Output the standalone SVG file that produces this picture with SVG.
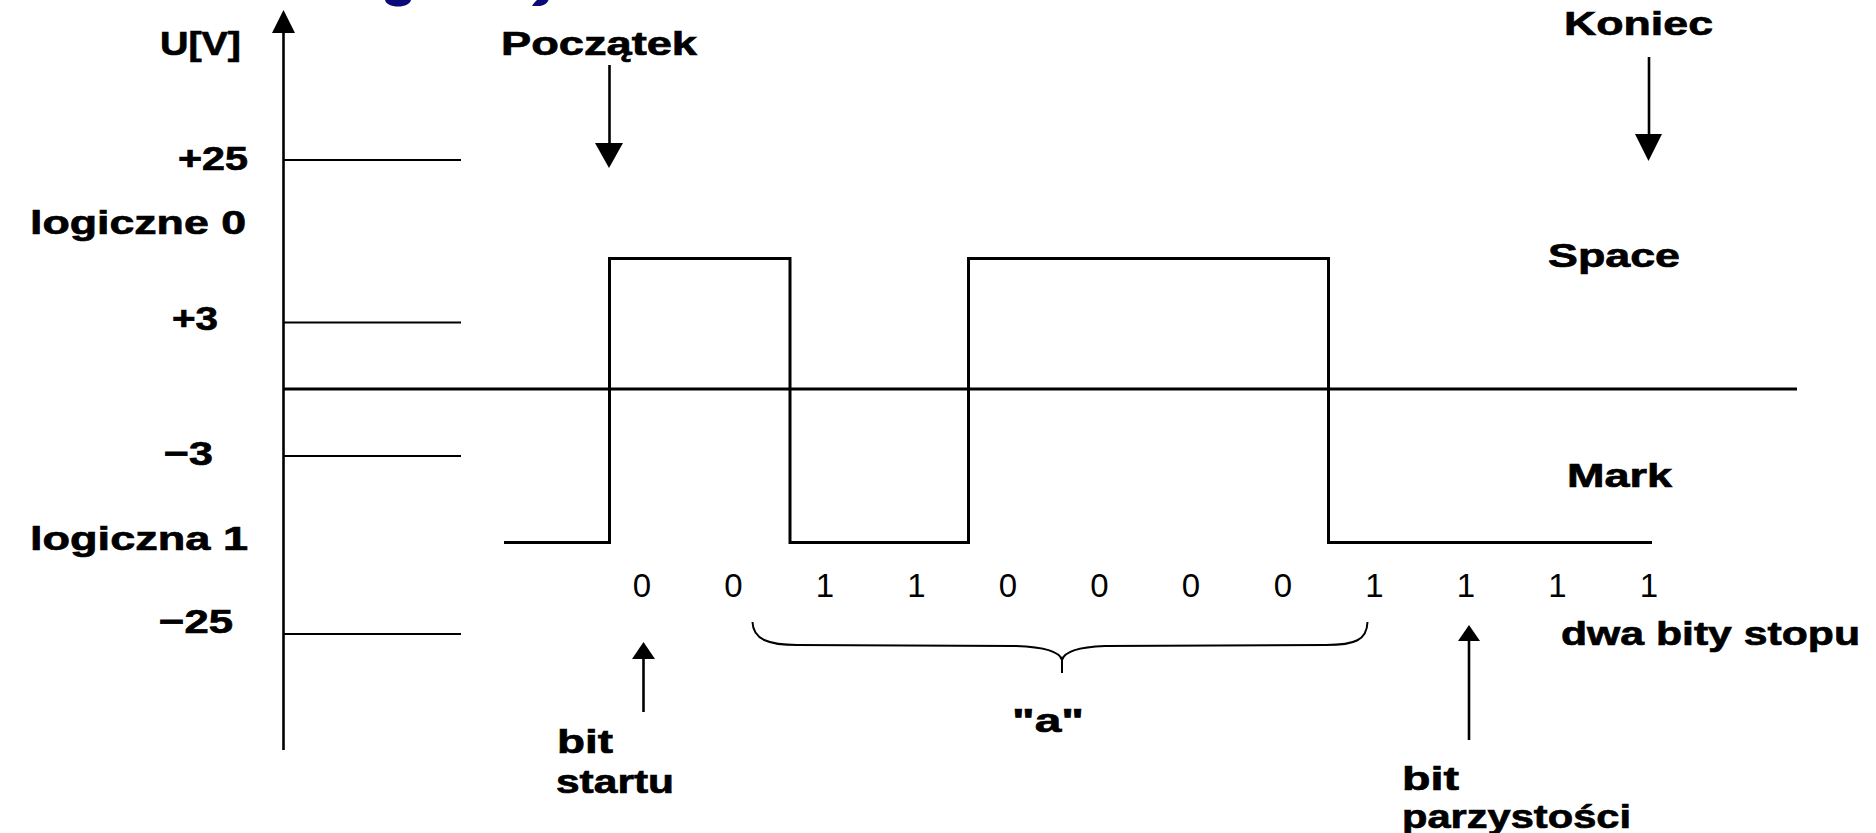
<svg xmlns="http://www.w3.org/2000/svg" width="1876" height="833" viewBox="0 0 1876 833">
  <style>
    .lbl { font-family: "Liberation Sans", Arial, sans-serif; font-weight: bold; font-size: 34px; fill: #000; stroke: #000; stroke-width: 0.7px; }
    .bit { font-family: "Liberation Sans", Arial, sans-serif; font-size: 33px; fill: #000; text-anchor: middle; }
    .axis { stroke: #000; stroke-width: 2.6; fill: none; }
    .tick { stroke: #000; stroke-width: 2; fill: none; }
    .zero { stroke: #000; stroke-width: 3; fill: none; }
    .wave { stroke: #000; stroke-width: 3; fill: none; stroke-linejoin: miter; }
    .ptr { stroke: #000; stroke-width: 2.6; fill: none; }
    .head { fill: #000; stroke: none; }
    .brace { stroke: #000; stroke-width: 2; fill: none; }
    .title { fill: #0a0a78; stroke: none; }
  </style>

  <rect x="0" y="0" width="1876" height="833" fill="#fff"/>

  <!-- lower edges of the heading glyphs peeking in at the top -->
  <g id="heading-edge">
    <path class="title" d="M385,0 L411,0 C410,4 405,6.5 398,6.5 C391,6.5 386,4 385,0 Z"/>
    <path class="title" d="M537,0 L548.5,0 C547,3.5 544,6 538,6 L532,6 C533,4 535,2 537,0 Z"/>
  </g>

  <!-- voltage axis with level ticks and the zero line -->
  <g id="axes">
    <line class="axis" x1="283.5" y1="28" x2="283.5" y2="750"/>
    <polygon class="head" points="283.5,10 295,33 272,33"/>
    <line class="tick" x1="284" y1="160" x2="461" y2="160"/>
    <line class="tick" x1="284" y1="322.5" x2="461" y2="322.5"/>
    <line class="tick" x1="284" y1="456" x2="461" y2="456"/>
    <line class="tick" x1="284" y1="634" x2="461" y2="634"/>
    <line class="zero" x1="284" y1="389" x2="1797" y2="389"/>
  </g>

  <!-- axis labels -->
  <g id="axis-labels">
    <text class="lbl" x="160" y="55" textLength="81" lengthAdjust="spacingAndGlyphs">U[V]</text>
    <text class="lbl" x="178" y="170" textLength="70" lengthAdjust="spacingAndGlyphs">+25</text>
    <text class="lbl" x="30" y="234" textLength="216" lengthAdjust="spacingAndGlyphs">logiczne 0</text>
    <text class="lbl" x="172" y="330" textLength="46" lengthAdjust="spacingAndGlyphs">+3</text>
    <text class="lbl" x="164" y="465" textLength="49" lengthAdjust="spacingAndGlyphs">−3</text>
    <text class="lbl" x="30" y="550" textLength="218" lengthAdjust="spacingAndGlyphs">logiczna 1</text>
    <text class="lbl" x="159" y="633" textLength="74" lengthAdjust="spacingAndGlyphs">−25</text>
  </g>

  <!-- signal waveform -->
  <g id="waveform">
    <path class="wave" d="M504,542.5 H609.5 V258.5 H790 V542.5 H968.5 V258.5 H1328.5 V542.5 H1652"/>
  </g>

  <g id="level-space">
    <text class="lbl" x="1548" y="267" textLength="132" lengthAdjust="spacingAndGlyphs">Space</text>
  </g>
  <g id="level-mark">
    <text class="lbl" x="1567" y="487" textLength="105" lengthAdjust="spacingAndGlyphs">Mark</text>
  </g>

  <!-- bit values under the waveform -->
  <g id="bits">
    <text class="bit" x="642" y="597">0</text>
    <text class="bit" x="733.5" y="597">0</text>
    <text class="bit" x="825" y="597">1</text>
    <text class="bit" x="916.5" y="597">1</text>
    <text class="bit" x="1008" y="597">0</text>
    <text class="bit" x="1099.5" y="597">0</text>
    <text class="bit" x="1191" y="597">0</text>
    <text class="bit" x="1283" y="597">0</text>
    <text class="bit" x="1374.5" y="597">1</text>
    <text class="bit" x="1466" y="597">1</text>
    <text class="bit" x="1557.5" y="597">1</text>
    <text class="bit" x="1649" y="597">1</text>
  </g>

  <g id="node-poczatek">
    <text class="lbl" x="501" y="55" textLength="196" lengthAdjust="spacingAndGlyphs">Początek</text>
  </g>
  <g id="node-koniec">
    <text class="lbl" x="1564" y="35" textLength="149" lengthAdjust="spacingAndGlyphs">Koniec</text>
  </g>
  <g id="node-bit-startu">
    <text class="lbl" x="557" y="753" textLength="56" lengthAdjust="spacingAndGlyphs">bit</text>
    <text class="lbl" x="556" y="793" textLength="118" lengthAdjust="spacingAndGlyphs">startu</text>
  </g>
  <g id="node-znak-a">
    <text class="lbl" x="1012" y="732" textLength="72" lengthAdjust="spacingAndGlyphs">"a"</text>
  </g>
  <g id="node-stop">
    <text class="lbl" x="1561" y="645" textLength="299" lengthAdjust="spacingAndGlyphs">dwa bity stopu</text>
  </g>
  <g id="node-parzystosc">
    <text class="lbl" x="1402" y="790" textLength="57" lengthAdjust="spacingAndGlyphs">bit</text>
    <text class="lbl" x="1402" y="828" textLength="229" lengthAdjust="spacingAndGlyphs">parzystości</text>
  </g>

  <!-- pointer arrows and the brace grouping the character bits -->
  <g id="connectors">
    <line class="ptr" x1="609.5" y1="65" x2="609.5" y2="146"/>
    <polygon class="head" points="595,143 623,143 609,168"/>

    <line class="ptr" x1="1649" y1="57" x2="1649" y2="137"/>
    <polygon class="head" points="1635,134 1662,134 1648.5,161"/>

    <polygon class="head" points="632,659 655,659 643.5,642"/>
    <line class="ptr" x1="643.5" y1="657" x2="643.5" y2="712"/>

    <polygon class="head" points="1458,641 1480,641 1469,625"/>
    <line class="ptr" x1="1469" y1="639" x2="1469" y2="740"/>

    <path class="brace" d="M752.5,622 C753,640 770,645 797,645 L1015,646 C1045,647 1060,652 1062,660 L1062,673 M1062,660 C1064,652 1079,647 1105,646 L1326,645 C1355,645 1367,640 1367.5,622"/>
  </g>
</svg>
